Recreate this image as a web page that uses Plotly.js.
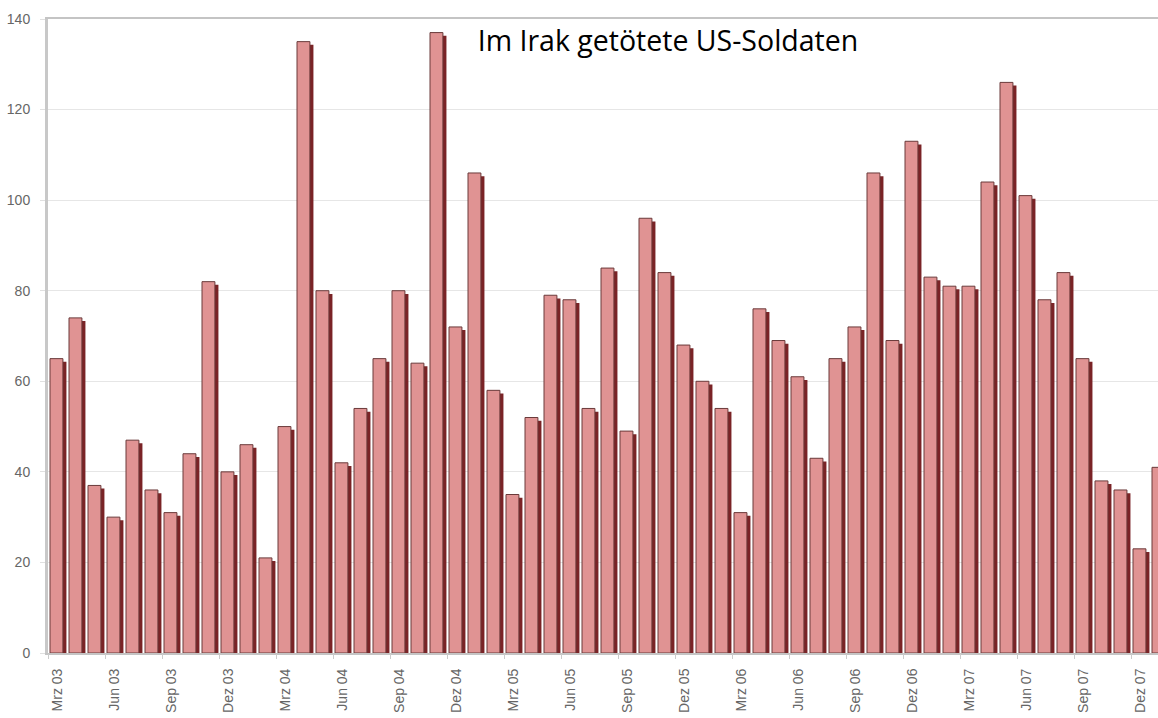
<!DOCTYPE html>
<html>
<head>
<meta charset="utf-8">
<script src="https://cdn.plot.ly/plotly-3.0.1.min.js"></script>
<style>
html,body{margin:0;padding:0;background:#fff;}
#chart{width:1158px;height:718px;}
</style>
</head>
<body>
<div id="chart"></div>
<script>
// Months from März 2003 to Januar 2008
var months = [
  "Mrz 03","Apr 03","Mai 03","Jun 03","Jul 03","Aug 03","Sep 03","Okt 03","Nov 03","Dez 03",
  "Jan 04","Feb 04","Mrz 04","Apr 04","Mai 04","Jun 04","Jul 04","Aug 04","Sep 04","Okt 04","Nov 04","Dez 04",
  "Jan 05","Feb 05","Mrz 05","Apr 05","Mai 05","Jun 05","Jul 05","Aug 05","Sep 05","Okt 05","Nov 05","Dez 05",
  "Jan 06","Feb 06","Mrz 06","Apr 06","Mai 06","Jun 06","Jul 06","Aug 06","Sep 06","Okt 06","Nov 06","Dez 06",
  "Jan 07","Feb 07","Mrz 07","Apr 07","Mai 07","Jun 07","Jul 07","Aug 07","Sep 07","Okt 07","Nov 07","Dez 07",
  "Jan 08"
];
// US soldiers killed per month
var deaths = [
  65, 74, 37, 30, 47, 36, 31, 44, 82, 40,
  46, 21, 50, 135, 80, 42, 54, 65, 80, 64, 137, 72,
  106, 58, 35, 52, 79, 78, 54, 85, 49, 96, 84, 68,
  60, 54, 31, 76, 69, 61, 43, 65, 72, 106, 69, 113,
  83, 81, 81, 104, 126, 101, 78, 84, 65, 38, 36, 23,
  41
];
var tickLabels = ["Mrz 03","Jun 03","Sep 03","Dez 03","Mrz 04","Jun 04","Sep 04","Dez 04",
  "Mrz 05","Jun 05","Sep 05","Dez 05","Mrz 06","Jun 06","Sep 06","Dez 06",
  "Mrz 07","Jun 07","Sep 07","Dez 07"];
var titleText = "Im Irak getötete US-Soldaten";

var idx = months.map(function(m, i){ return i; });
var labelPos = tickLabels.map(function(l){ return months.indexOf(l); });
var boundaryPos = labelPos.map(function(p){ return p - 0.5; });
var xRange = [-0.5, 57.92];

var shadow = {
  type: 'bar', x: idx, y: deaths, base: -0.7,
  width: 0.68, offset: -0.21,
  marker: {color: '#7a2326', line: {width: 0}},
  hoverinfo: 'skip', showlegend: false
};
var face = {
  type: 'bar', x: idx, y: deaths, customdata: months,
  width: 0.68, offset: -0.395,
  marker: {color: '#e09393', line: {color: '#6a3a3a', width: 1}},
  hovertemplate: '%{customdata}: %{y}<extra></extra>', showlegend: false
};
// invisible trace so the boundary-tick axis is drawn
var tickHelper = {
  type: 'scatter', mode: 'none', x: idx, y: deaths, xaxis: 'x2',
  hoverinfo: 'skip', showlegend: false
};

var tickFont = {family: 'Liberation Sans, Arial, sans-serif', size: 14, color: '#666666'};

var layout = {
  width: 1158, height: 718,
  margin: {l: 48, r: 0, t: 19, b: 65, pad: 0},
  paper_bgcolor: '#ffffff', plot_bgcolor: '#ffffff',
  barmode: 'overlay',
  title: {
    text: titleText,
    font: {family: 'Open Sans, sans-serif', size: 28.5, color: '#000'},
    xref: 'container', yref: 'container',
    x: 668/1158, xanchor: 'center', y: 1 - 41/718, yanchor: 'middle'
  },
  xaxis: {
    type: 'linear', range: xRange,
    tickmode: 'array', tickvals: labelPos, ticktext: tickLabels,
    tickangle: -90, ticks: '',
    ticklabelstandoff: 8,
    showgrid: false, zeroline: false,
    showline: true, linecolor: '#c4c4c4', linewidth: 2, mirror: true,
    tickfont: tickFont,
    fixedrange: true
  },
  xaxis2: {
    type: 'linear', range: xRange, overlaying: 'x', anchor: 'y', side: 'bottom',
    tickmode: 'array', tickvals: boundaryPos, ticktext: boundaryPos.map(function(){ return ''; }),
    showticklabels: false,
    ticks: 'outside', ticklen: 5, tickcolor: '#cccccc', tickwidth: 1,
    showgrid: false, zeroline: false, showline: false,
    fixedrange: true
  },
  yaxis: {
    range: [0, 140], dtick: 20, tick0: 0,
    ticks: 'outside', ticklen: 5, tickcolor: '#e0e0e0',
    ticklabelstandoff: 7,
    showgrid: true, gridcolor: '#e6e6e6', gridwidth: 1,
    zeroline: false,
    showline: true, linecolor: '#c8c8c8', linewidth: 3,
    tickfont: tickFont,
    fixedrange: true
  }
};

Plotly.newPlot('chart', [shadow, face, tickHelper], layout, {displayModeBar: false, staticPlot: true});
</script>
</body>
</html>
